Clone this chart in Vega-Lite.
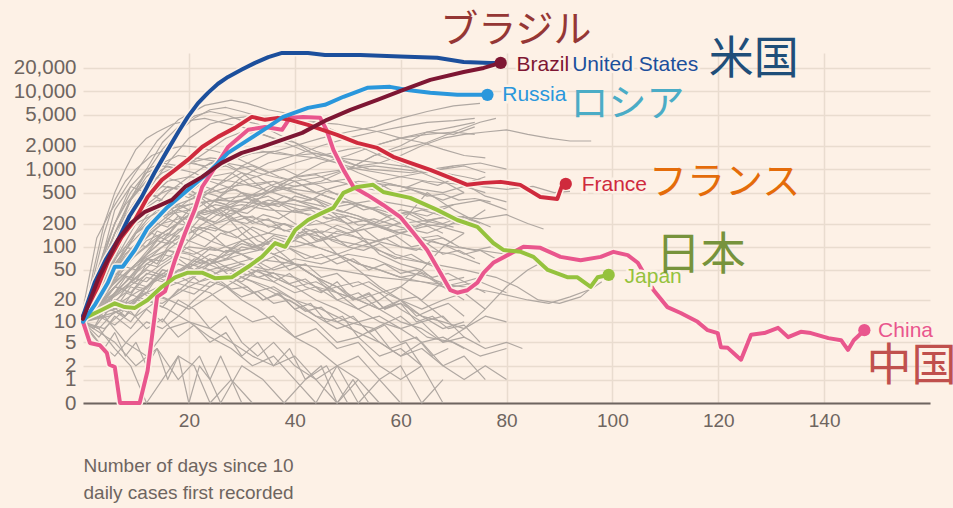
{
"$schema": "https://vega.github.io/schema/vega-lite/v6.json",
"autosize": {"type": "none"},
"padding": {"left": 83, "top": 53, "right": 23, "bottom": 105},
"width": 847,
"height": 350,
"background": "#fdf1e6",
"config": {"view": {"stroke": null}, "font": "Liberation Sans", "axis": {"labelOverlap": false}},
"datasets": {
"grey": [
{"s":"g1","d":0,"v":12},{"s":"g1","d":3,"v":40},{"s":"g1","d":6,"v":150},{"s":"g1","d":9,"v":420},{"s":"g1","d":12,"v":900},{"s":"g1","d":15,"v":1800},{"s":"g1","d":18,"v":3000},{"s":"g1","d":21,"v":4500},{"s":"g1","d":24,"v":5800},{"s":"g1","d":27,"v":6200},{"s":"g1","d":30,"v":5500},{"s":"g1","d":33,"v":4800},{"s":"g1","d":36,"v":4300},{"s":"g1","d":40,"v":3800},{"s":"g1","d":44,"v":3300},{"s":"g1","d":48,"v":2600},{"s":"g1","d":52,"v":2200},{"s":"g1","d":56,"v":1800},{"s":"g1","d":60,"v":1400},{"s":"g1","d":64,"v":1100},{"s":"g1","d":68,"v":800},{"s":"g1","d":72,"v":650},{"s":"g1","d":76,"v":450},{"s":"g1","d":80,"v":380},
{"s":"g2","d":0,"v":15},{"s":"g2","d":2.6,"v":130},{"s":"g2","d":5,"v":270},{"s":"g2","d":9.4,"v":800},{"s":"g2","d":14,"v":2300},{"s":"g2","d":18,"v":4300},{"s":"g2","d":23,"v":6600},{"s":"g2","d":28,"v":7700},{"s":"g2","d":31,"v":7000},{"s":"g2","d":35,"v":5800},{"s":"g2","d":40,"v":5000},{"s":"g2","d":44,"v":4000},{"s":"g2","d":48,"v":3000},{"s":"g2","d":52,"v":2000},{"s":"g2","d":56,"v":1500},{"s":"g2","d":60,"v":1200},{"s":"g2","d":64,"v":900},{"s":"g2","d":68,"v":700},{"s":"g2","d":72,"v":500},
{"s":"g3","d":0,"v":10},{"s":"g3","d":3,"v":30},{"s":"g3","d":6,"v":120},{"s":"g3","d":9,"v":400},{"s":"g3","d":12,"v":1000},{"s":"g3","d":15,"v":2200},{"s":"g3","d":18,"v":3500},{"s":"g3","d":21,"v":4800},{"s":"g3","d":24,"v":5500},{"s":"g3","d":27,"v":5000},{"s":"g3","d":30,"v":4200},{"s":"g3","d":33,"v":3800},{"s":"g3","d":36,"v":3000},{"s":"g3","d":40,"v":2200},{"s":"g3","d":44,"v":1500},{"s":"g3","d":48,"v":1200},{"s":"g3","d":52,"v":900},{"s":"g3","d":56,"v":700},{"s":"g3","d":60,"v":600},{"s":"g3","d":64,"v":500},{"s":"g3","d":68,"v":400},{"s":"g3","d":72,"v":500},
{"s":"g4","d":0,"v":10},{"s":"g4","d":4,"v":40},{"s":"g4","d":8,"v":150},{"s":"g4","d":12,"v":500},{"s":"g4","d":16,"v":1200},{"s":"g4","d":20,"v":2500},{"s":"g4","d":24,"v":3800},{"s":"g4","d":28,"v":4500},{"s":"g4","d":32,"v":4800},{"s":"g4","d":36,"v":4600},{"s":"g4","d":40,"v":4200},{"s":"g4","d":44,"v":4000},{"s":"g4","d":48,"v":3800},{"s":"g4","d":52,"v":3400},{"s":"g4","d":56,"v":3000},{"s":"g4","d":60,"v":2500},{"s":"g4","d":64,"v":2200},{"s":"g4","d":68,"v":1800},{"s":"g4","d":72,"v":1500},{"s":"g4","d":76,"v":1400},
{"s":"g5","d":0,"v":10},{"s":"g5","d":2,"v":50},{"s":"g5","d":4,"v":200},{"s":"g5","d":6,"v":500},{"s":"g5","d":8,"v":1000},{"s":"g5","d":10,"v":1800},{"s":"g5","d":12,"v":2500},{"s":"g5","d":14,"v":3000},{"s":"g5","d":17,"v":3800},{"s":"g5","d":20,"v":4200},{"s":"g5","d":23,"v":4500},{"s":"g5","d":26,"v":4000},{"s":"g5","d":30,"v":3500},{"s":"g5","d":34,"v":2800},{"s":"g5","d":38,"v":2200},{"s":"g5","d":42,"v":1700},{"s":"g5","d":46,"v":1500},{"s":"g5","d":50,"v":1200},{"s":"g5","d":54,"v":1000},{"s":"g5","d":58,"v":950},{"s":"g5","d":62,"v":900},{"s":"g5","d":66,"v":1000},{"s":"g5","d":70,"v":1100},
{"s":"g6","d":0,"v":15},{"s":"g6","d":3,"v":50},{"s":"g6","d":6,"v":200},{"s":"g6","d":9,"v":600},{"s":"g6","d":12,"v":1000},{"s":"g6","d":15,"v":1200},{"s":"g6","d":18,"v":1100},{"s":"g6","d":21,"v":1300},{"s":"g6","d":24,"v":1800},{"s":"g6","d":27,"v":2500},{"s":"g6","d":30,"v":3000},{"s":"g6","d":33,"v":2900},{"s":"g6","d":36,"v":2500},{"s":"g6","d":40,"v":2200},{"s":"g6","d":44,"v":1700},{"s":"g6","d":48,"v":1400},{"s":"g6","d":52,"v":1100},{"s":"g6","d":56,"v":1200},{"s":"g6","d":60,"v":1500},{"s":"g6","d":64,"v":2000},{"s":"g6","d":68,"v":2500},{"s":"g6","d":72,"v":2800},{"s":"g6","d":76,"v":3000},{"s":"g6","d":80,"v":3200},{"s":"g6","d":84,"v":2800},{"s":"g6","d":88,"v":2500},{"s":"g6","d":92,"v":2300},{"s":"g6","d":96,"v":2300},
{"s":"g7","d":0,"v":10},{"s":"g7","d":5,"v":25},{"s":"g7","d":10,"v":60},{"s":"g7","d":15,"v":120},{"s":"g7","d":20,"v":300},{"s":"g7","d":25,"v":600},{"s":"g7","d":30,"v":1100},{"s":"g7","d":35,"v":1600},{"s":"g7","d":40,"v":2000},{"s":"g7","d":45,"v":2500},{"s":"g7","d":50,"v":3000},{"s":"g7","d":55,"v":3500},{"s":"g7","d":60,"v":4500},{"s":"g7","d":65,"v":5500},{"s":"g7","d":70,"v":6500},{"s":"g7","d":75,"v":7000},
{"s":"g8","d":0,"v":10},{"s":"g8","d":5,"v":20},{"s":"g8","d":10,"v":50},{"s":"g8","d":15,"v":100},{"s":"g8","d":20,"v":200},{"s":"g8","d":25,"v":400},{"s":"g8","d":30,"v":800},{"s":"g8","d":35,"v":1200},{"s":"g8","d":40,"v":1500},{"s":"g8","d":45,"v":2000},{"s":"g8","d":50,"v":2500},{"s":"g8","d":55,"v":3000},{"s":"g8","d":60,"v":3500},{"s":"g8","d":65,"v":4000},{"s":"g8","d":70,"v":4200},{"s":"g8","d":74,"v":4500},
{"s":"g9","d":0,"v":12},{"s":"g9","d":5,"v":40},{"s":"g9","d":10,"v":150},{"s":"g9","d":15,"v":300},{"s":"g9","d":20,"v":350},{"s":"g9","d":25,"v":400},{"s":"g9","d":30,"v":450},{"s":"g9","d":35,"v":500},{"s":"g9","d":40,"v":600},{"s":"g9","d":45,"v":700},{"s":"g9","d":50,"v":1000},{"s":"g9","d":55,"v":1500},{"s":"g9","d":60,"v":2000},{"s":"g9","d":65,"v":3000},{"s":"g9","d":70,"v":3500},{"s":"g9","d":74,"v":4000},
{"s":"g10","d":0,"v":10},{"s":"g10","d":4,"v":40},{"s":"g10","d":8,"v":150},{"s":"g10","d":12,"v":400},{"s":"g10","d":16,"v":800},{"s":"g10","d":20,"v":1200},{"s":"g10","d":24,"v":1400},{"s":"g10","d":28,"v":1300},{"s":"g10","d":32,"v":1600},{"s":"g10","d":36,"v":1700},{"s":"g10","d":40,"v":1500},{"s":"g10","d":44,"v":1600},{"s":"g10","d":48,"v":1400},{"s":"g10","d":52,"v":1300},{"s":"g10","d":56,"v":1200},{"s":"g10","d":60,"v":1100},{"s":"g10","d":64,"v":1000},{"s":"g10","d":68,"v":900},{"s":"g10","d":72,"v":800},{"s":"g10","d":76,"v":700},
{"s":"g11","d":0,"v":10},{"s":"g11","d":5,"v":30},{"s":"g11","d":10,"v":60},{"s":"g11","d":15,"v":120},{"s":"g11","d":20,"v":200},{"s":"g11","d":25,"v":400},{"s":"g11","d":30,"v":700},{"s":"g11","d":35,"v":900},{"s":"g11","d":40,"v":1200},{"s":"g11","d":45,"v":1500},{"s":"g11","d":50,"v":1800},{"s":"g11","d":55,"v":2000},{"s":"g11","d":60,"v":2500},{"s":"g11","d":65,"v":2800},{"s":"g11","d":70,"v":3000},{"s":"g11","d":74,"v":2800},
{"s":"g12","d":0,"v":10},{"s":"g12","d":3,"v":50},{"s":"g12","d":6,"v":150},{"s":"g12","d":9,"v":400},{"s":"g12","d":12,"v":800},{"s":"g12","d":15,"v":1200},{"s":"g12","d":18,"v":1500},{"s":"g12","d":21,"v":1400},{"s":"g12","d":24,"v":1300},{"s":"g12","d":27,"v":1200},{"s":"g12","d":30,"v":1100},{"s":"g12","d":33,"v":900},{"s":"g12","d":36,"v":800},{"s":"g12","d":40,"v":700},{"s":"g12","d":44,"v":500},{"s":"g12","d":48,"v":400},{"s":"g12","d":52,"v":350},{"s":"g12","d":56,"v":300},{"s":"g12","d":60,"v":250},{"s":"g12","d":64,"v":200},{"s":"g12","d":68,"v":180},{"s":"g12","d":72,"v":150},
{"s":"g13","d":0,"v":12},{"s":"g13","d":3,"v":40},{"s":"g13","d":6,"v":100},{"s":"g13","d":9,"v":300},{"s":"g13","d":12,"v":600},{"s":"g13","d":15,"v":900},{"s":"g13","d":18,"v":1100},{"s":"g13","d":21,"v":1200},{"s":"g13","d":24,"v":1000},{"s":"g13","d":27,"v":1100},{"s":"g13","d":30,"v":900},{"s":"g13","d":33,"v":800},{"s":"g13","d":36,"v":600},{"s":"g13","d":40,"v":500},{"s":"g13","d":44,"v":400},{"s":"g13","d":48,"v":300},{"s":"g13","d":52,"v":250},{"s":"g13","d":56,"v":180},{"s":"g13","d":60,"v":150},{"s":"g13","d":64,"v":200},{"s":"g13","d":68,"v":150},
{"s":"g14","d":0,"v":10},{"s":"g14","d":4,"v":30},{"s":"g14","d":8,"v":80},{"s":"g14","d":12,"v":150},{"s":"g14","d":16,"v":250},{"s":"g14","d":20,"v":400},{"s":"g14","d":24,"v":500},{"s":"g14","d":28,"v":600},{"s":"g14","d":32,"v":650},{"s":"g14","d":36,"v":700},{"s":"g14","d":40,"v":600},{"s":"g14","d":44,"v":650},{"s":"g14","d":48,"v":700},{"s":"g14","d":52,"v":600},{"s":"g14","d":56,"v":700},{"s":"g14","d":60,"v":800},{"s":"g14","d":64,"v":900},{"s":"g14","d":68,"v":1000},{"s":"g14","d":72,"v":1100},{"s":"g14","d":76,"v":900},
{"s":"g15","d":0,"v":10},{"s":"g15","d":5,"v":25},{"s":"g15","d":10,"v":60},{"s":"g15","d":15,"v":100},{"s":"g15","d":20,"v":150},{"s":"g15","d":25,"v":200},{"s":"g15","d":30,"v":300},{"s":"g15","d":35,"v":500},{"s":"g15","d":40,"v":800},{"s":"g15","d":45,"v":1200},{"s":"g15","d":50,"v":1500},{"s":"g15","d":55,"v":2000},{"s":"g15","d":60,"v":2500},{"s":"g15","d":65,"v":3000},{"s":"g15","d":70,"v":2800},{"s":"g15","d":74,"v":3500},
{"s":"g16","d":0,"v":10},{"s":"g16","d":5,"v":40},{"s":"g16","d":10,"v":100},{"s":"g16","d":15,"v":200},{"s":"g16","d":20,"v":250},{"s":"g16","d":25,"v":300},{"s":"g16","d":30,"v":400},{"s":"g16","d":35,"v":500},{"s":"g16","d":40,"v":700},{"s":"g16","d":45,"v":800},{"s":"g16","d":50,"v":1000},{"s":"g16","d":55,"v":1500},{"s":"g16","d":60,"v":1800},{"s":"g16","d":65,"v":2200},{"s":"g16","d":70,"v":3000},{"s":"g16","d":75,"v":4000},{"s":"g16","d":78,"v":4500},
{"s":"g17","d":0,"v":10},{"s":"g17","d":5,"v":50},{"s":"g17","d":10,"v":200},{"s":"g17","d":15,"v":300},{"s":"g17","d":20,"v":400},{"s":"g17","d":25,"v":600},{"s":"g17","d":30,"v":900},{"s":"g17","d":35,"v":500},{"s":"g17","d":40,"v":800},{"s":"g17","d":45,"v":600},{"s":"g17","d":50,"v":400},{"s":"g17","d":55,"v":300},{"s":"g17","d":60,"v":200},{"s":"g17","d":65,"v":500},{"s":"g17","d":70,"v":300},{"s":"g17","d":75,"v":200},
{"s":"g18","d":0,"v":10},{"s":"g18","d":4,"v":30},{"s":"g18","d":8,"v":150},{"s":"g18","d":12,"v":400},{"s":"g18","d":16,"v":700},{"s":"g18","d":20,"v":800},{"s":"g18","d":24,"v":750},{"s":"g18","d":28,"v":700},{"s":"g18","d":32,"v":600},{"s":"g18","d":36,"v":500},{"s":"g18","d":40,"v":400},{"s":"g18","d":44,"v":350},{"s":"g18","d":48,"v":300},{"s":"g18","d":52,"v":250},{"s":"g18","d":56,"v":200},{"s":"g18","d":60,"v":250},{"s":"g18","d":64,"v":300},{"s":"g18","d":68,"v":250},{"s":"g18","d":72,"v":200},{"s":"g18","d":76,"v":300},
{"s":"g19","d":0,"v":12},{"s":"g19","d":3,"v":50},{"s":"g19","d":6,"v":200},{"s":"g19","d":9,"v":500},{"s":"g19","d":12,"v":900},{"s":"g19","d":15,"v":1100},{"s":"g19","d":18,"v":1000},{"s":"g19","d":21,"v":900},{"s":"g19","d":24,"v":700},{"s":"g19","d":27,"v":600},{"s":"g19","d":30,"v":500},{"s":"g19","d":33,"v":400},{"s":"g19","d":36,"v":300},{"s":"g19","d":40,"v":200},{"s":"g19","d":44,"v":150},{"s":"g19","d":48,"v":80},{"s":"g19","d":52,"v":50},{"s":"g19","d":56,"v":30},{"s":"g19","d":60,"v":20},{"s":"g19","d":64,"v":15},{"s":"g19","d":68,"v":20},{"s":"g19","d":72,"v":25},{"s":"g19","d":76,"v":15},
{"s":"g20","d":0,"v":10},{"s":"g20","d":3,"v":40},{"s":"g20","d":6,"v":150},{"s":"g20","d":9,"v":400},{"s":"g20","d":12,"v":700},{"s":"g20","d":15,"v":800},{"s":"g20","d":18,"v":700},{"s":"g20","d":21,"v":500},{"s":"g20","d":24,"v":350},{"s":"g20","d":27,"v":250},{"s":"g20","d":30,"v":150},{"s":"g20","d":33,"v":100},{"s":"g20","d":36,"v":80},{"s":"g20","d":40,"v":60},{"s":"g20","d":44,"v":40},{"s":"g20","d":48,"v":30},{"s":"g20","d":52,"v":35},{"s":"g20","d":56,"v":25},{"s":"g20","d":60,"v":30},{"s":"g20","d":64,"v":20},{"s":"g20","d":68,"v":35},{"s":"g20","d":72,"v":40},
{"s":"g21","d":0,"v":10},{"s":"g21","d":4,"v":40},{"s":"g21","d":8,"v":150},{"s":"g21","d":12,"v":300},{"s":"g21","d":16,"v":400},{"s":"g21","d":20,"v":500},{"s":"g21","d":24,"v":800},{"s":"g21","d":28,"v":900},{"s":"g21","d":32,"v":600},{"s":"g21","d":36,"v":700},{"s":"g21","d":40,"v":500},{"s":"g21","d":44,"v":400},{"s":"g21","d":48,"v":250},{"s":"g21","d":52,"v":150},{"s":"g21","d":56,"v":80},{"s":"g21","d":60,"v":60},{"s":"g21","d":64,"v":50},{"s":"g21","d":68,"v":30},{"s":"g21","d":72,"v":20},
{"s":"g22","d":0,"v":10},{"s":"g22","d":3,"v":30},{"s":"g22","d":6,"v":100},{"s":"g22","d":9,"v":300},{"s":"g22","d":12,"v":500},{"s":"g22","d":15,"v":600},{"s":"g22","d":18,"v":550},{"s":"g22","d":21,"v":450},{"s":"g22","d":24,"v":300},{"s":"g22","d":27,"v":250},{"s":"g22","d":30,"v":200},{"s":"g22","d":33,"v":150},{"s":"g22","d":36,"v":100},{"s":"g22","d":40,"v":60},{"s":"g22","d":44,"v":40},{"s":"g22","d":48,"v":20},{"s":"g22","d":52,"v":15},{"s":"g22","d":56,"v":20},{"s":"g22","d":60,"v":30},{"s":"g22","d":64,"v":50},{"s":"g22","d":68,"v":100},{"s":"g22","d":72,"v":150},
{"s":"g23","d":0,"v":10},{"s":"g23","d":5,"v":30},{"s":"g23","d":10,"v":100},{"s":"g23","d":15,"v":250},{"s":"g23","d":20,"v":350},{"s":"g23","d":25,"v":400},{"s":"g23","d":30,"v":380},{"s":"g23","d":35,"v":350},{"s":"g23","d":40,"v":400},{"s":"g23","d":45,"v":300},{"s":"g23","d":50,"v":350},{"s":"g23","d":55,"v":400},{"s":"g23","d":60,"v":350},{"s":"g23","d":65,"v":300},{"s":"g23","d":70,"v":350},{"s":"g23","d":75,"v":400},{"s":"g23","d":80,"v":300},
{"s":"g24","d":0,"v":10},{"s":"g24","d":5,"v":25},{"s":"g24","d":10,"v":60},{"s":"g24","d":15,"v":150},{"s":"g24","d":20,"v":250},{"s":"g24","d":25,"v":300},{"s":"g24","d":30,"v":350},{"s":"g24","d":35,"v":300},{"s":"g24","d":40,"v":280},{"s":"g24","d":45,"v":250},{"s":"g24","d":50,"v":200},{"s":"g24","d":55,"v":230},{"s":"g24","d":60,"v":180},{"s":"g24","d":65,"v":150},{"s":"g24","d":70,"v":200},{"s":"g24","d":75,"v":180},
{"s":"g25","d":0,"v":10},{"s":"g25","d":5,"v":40},{"s":"g25","d":10,"v":150},{"s":"g25","d":15,"v":250},{"s":"g25","d":20,"v":300},{"s":"g25","d":25,"v":200},{"s":"g25","d":30,"v":250},{"s":"g25","d":35,"v":220},{"s":"g25","d":40,"v":180},{"s":"g25","d":45,"v":200},{"s":"g25","d":50,"v":250},{"s":"g25","d":55,"v":200},{"s":"g25","d":60,"v":300},{"s":"g25","d":65,"v":250},{"s":"g25","d":70,"v":350},
{"s":"g26","d":0,"v":11},{"s":"g26","d":6,"v":15},{"s":"g26","d":12,"v":25},{"s":"g26","d":18,"v":40},{"s":"g26","d":24,"v":60},{"s":"g26","d":30,"v":80},{"s":"g26","d":36,"v":100},{"s":"g26","d":42,"v":150},{"s":"g26","d":48,"v":120},{"s":"g26","d":54,"v":100},{"s":"g26","d":60,"v":70},{"s":"g26","d":66,"v":60},{"s":"g26","d":72,"v":50},{"s":"g26","d":78,"v":40},{"s":"g26","d":82,"v":30},{"s":"g26","d":86,"v":20},{"s":"g26","d":90,"v":18},{"s":"g26","d":94,"v":22},{"s":"g26","d":97,"v":33},
{"s":"g27","d":0,"v":10},{"s":"g27","d":3,"v":50},{"s":"g27","d":6,"v":300},{"s":"g27","d":9,"v":600},{"s":"g27","d":12,"v":500},{"s":"g27","d":15,"v":400},{"s":"g27","d":18,"v":250},{"s":"g27","d":21,"v":150},{"s":"g27","d":24,"v":120},{"s":"g27","d":27,"v":100},{"s":"g27","d":30,"v":90},{"s":"g27","d":33,"v":100},{"s":"g27","d":36,"v":80},{"s":"g27","d":40,"v":60},{"s":"g27","d":44,"v":40},{"s":"g27","d":48,"v":25},{"s":"g27","d":52,"v":15},{"s":"g27","d":56,"v":10},{"s":"g27","d":60,"v":8},{"s":"g27","d":64,"v":10},{"s":"g27","d":68,"v":5},{"s":"g27","d":72,"v":8},{"s":"g27","d":76,"v":15},{"s":"g27","d":80,"v":30},{"s":"g27","d":84,"v":50},{"s":"g27","d":87,"v":65},
{"s":"g28","d":0,"v":10},{"s":"g28","d":4,"v":30},{"s":"g28","d":8,"v":100},{"s":"g28","d":12,"v":250},{"s":"g28","d":16,"v":500},{"s":"g28","d":20,"v":800},{"s":"g28","d":24,"v":1200},{"s":"g28","d":28,"v":1500},{"s":"g28","d":32,"v":1800},{"s":"g28","d":36,"v":1600},{"s":"g28","d":40,"v":1500},{"s":"g28","d":44,"v":1400},{"s":"g28","d":48,"v":1200},{"s":"g28","d":52,"v":1000},{"s":"g28","d":56,"v":900},{"s":"g28","d":60,"v":800},{"s":"g28","d":65,"v":700},{"s":"g28","d":70,"v":650},{"s":"g28","d":75,"v":600},{"s":"g28","d":80,"v":550},{"s":"g28","d":85,"v":600},{"s":"g28","d":89,"v":500},{"s":"g28","d":92,"v":520},
{"s":"g29","d":0,"v":10},{"s":"g29","d":3,"v":15},{"s":"g29","d":6,"v":25},{"s":"g29","d":9,"v":40},{"s":"g29","d":12,"v":60},{"s":"g29","d":15,"v":80},{"s":"g29","d":18,"v":70},{"s":"g29","d":21,"v":50},{"s":"g29","d":24,"v":40},{"s":"g29","d":27,"v":30},{"s":"g29","d":30,"v":20},{"s":"g29","d":33,"v":15},{"s":"g29","d":36,"v":10},{"s":"g29","d":40,"v":6},{"s":"g29","d":44,"v":4},{"s":"g29","d":48,"v":2},{"s":"g29","d":52,"v":3},{"s":"g29","d":56,"v":1},{"s":"g29","d":60,"v":2},{"s":"g29","d":64,"v":0},{"s":"g29","d":68,"v":1},
{"s":"g30","d":0,"v":10},{"s":"g30","d":4,"v":20},{"s":"g30","d":8,"v":30},{"s":"g30","d":12,"v":50},{"s":"g30","d":16,"v":40},{"s":"g30","d":20,"v":60},{"s":"g30","d":24,"v":50},{"s":"g30","d":28,"v":35},{"s":"g30","d":32,"v":25},{"s":"g30","d":36,"v":30},{"s":"g30","d":40,"v":20},{"s":"g30","d":44,"v":12},{"s":"g30","d":48,"v":8},{"s":"g30","d":52,"v":10},{"s":"g30","d":56,"v":5},{"s":"g30","d":60,"v":3},{"s":"g30","d":64,"v":5},{"s":"g30","d":68,"v":2},{"s":"g30","d":72,"v":3},{"s":"g30","d":76,"v":1},
{"s":"g31","d":0,"v":10},{"s":"g31","d":2,"v":8},{"s":"g31","d":5,"v":15},{"s":"g31","d":8,"v":12},{"s":"g31","d":11,"v":25},{"s":"g31","d":14,"v":20},{"s":"g31","d":17,"v":35},{"s":"g31","d":20,"v":30},{"s":"g31","d":24,"v":25},{"s":"g31","d":28,"v":15},{"s":"g31","d":32,"v":10},{"s":"g31","d":36,"v":12},{"s":"g31","d":40,"v":6},{"s":"g31","d":44,"v":8},{"s":"g31","d":48,"v":4},{"s":"g31","d":52,"v":5},{"s":"g31","d":56,"v":2},{"s":"g31","d":60,"v":1},{"s":"g31","d":64,"v":2},{"s":"g31","d":68,"v":0},
{"s":"g32","d":0,"v":10},{"s":"g32","d":3,"v":20},{"s":"g32","d":6,"v":40},{"s":"g32","d":9,"v":70},{"s":"g32","d":12,"v":120},{"s":"g32","d":15,"v":150},{"s":"g32","d":18,"v":200},{"s":"g32","d":21,"v":180},{"s":"g32","d":24,"v":150},{"s":"g32","d":27,"v":100},{"s":"g32","d":30,"v":80},{"s":"g32","d":33,"v":60},{"s":"g32","d":36,"v":40},{"s":"g32","d":40,"v":30},{"s":"g32","d":44,"v":20},{"s":"g32","d":48,"v":15},{"s":"g32","d":52,"v":10},{"s":"g32","d":56,"v":12},{"s":"g32","d":60,"v":8},{"s":"g32","d":64,"v":5},{"s":"g32","d":68,"v":6},{"s":"g32","d":72,"v":4},
{"s":"g33","d":0,"v":10},{"s":"g33","d":3,"v":6},{"s":"g33","d":6,"v":12},{"s":"g33","d":9,"v":8},{"s":"g33","d":12,"v":15},{"s":"g33","d":15,"v":10},{"s":"g33","d":18,"v":20},{"s":"g33","d":21,"v":15},{"s":"g33","d":24,"v":8},{"s":"g33","d":27,"v":12},{"s":"g33","d":30,"v":5},{"s":"g33","d":33,"v":3},{"s":"g33","d":36,"v":5},{"s":"g33","d":40,"v":2},{"s":"g33","d":44,"v":1},{"s":"g33","d":48,"v":2},{"s":"g33","d":52,"v":0},{"s":"g33","d":56,"v":1},{"s":"g33","d":60,"v":0},
{"s":"g34","d":0,"v":10},{"s":"g34","d":4,"v":30},{"s":"g34","d":8,"v":60},{"s":"g34","d":12,"v":100},{"s":"g34","d":16,"v":150},{"s":"g34","d":20,"v":120},{"s":"g34","d":24,"v":180},{"s":"g34","d":28,"v":150},{"s":"g34","d":32,"v":100},{"s":"g34","d":36,"v":120},{"s":"g34","d":40,"v":90},{"s":"g34","d":44,"v":70},{"s":"g34","d":48,"v":80},{"s":"g34","d":52,"v":60},{"s":"g34","d":56,"v":50},{"s":"g34","d":60,"v":40},{"s":"g34","d":64,"v":45},{"s":"g34","d":68,"v":30},{"s":"g34","d":72,"v":35},{"s":"g34","d":76,"v":25},
{"s":"g35","d":0,"v":10},{"s":"g35","d":5,"v":12},{"s":"g35","d":10,"v":20},{"s":"g35","d":15,"v":18},{"s":"g35","d":20,"v":30},{"s":"g35","d":25,"v":45},{"s":"g35","d":30,"v":60},{"s":"g35","d":35,"v":50},{"s":"g35","d":40,"v":70},{"s":"g35","d":45,"v":60},{"s":"g35","d":50,"v":80},{"s":"g35","d":55,"v":70},{"s":"g35","d":60,"v":50},{"s":"g35","d":65,"v":40},{"s":"g35","d":70,"v":30},{"s":"g35","d":75,"v":35},{"s":"g35","d":80,"v":25},
{"s":"g36","d":0,"v":10},{"s":"g36","d":3,"v":25},{"s":"g36","d":6,"v":50},{"s":"g36","d":9,"v":90},{"s":"g36","d":12,"v":140},{"s":"g36","d":15,"v":200},{"s":"g36","d":18,"v":300},{"s":"g36","d":21,"v":250},{"s":"g36","d":24,"v":200},{"s":"g36","d":27,"v":150},{"s":"g36","d":30,"v":180},{"s":"g36","d":33,"v":120},{"s":"g36","d":36,"v":100},{"s":"g36","d":40,"v":120},{"s":"g36","d":44,"v":100},{"s":"g36","d":48,"v":80},{"s":"g36","d":52,"v":100},{"s":"g36","d":56,"v":120},{"s":"g36","d":60,"v":150},{"s":"g36","d":64,"v":180},{"s":"g36","d":68,"v":200},{"s":"g36","d":72,"v":250},
{"s":"g37","d":0,"v":10},{"s":"g37","d":4,"v":12},{"s":"g37","d":8,"v":5},{"s":"g37","d":12,"v":3},{"s":"g37","d":16,"v":8},{"s":"g37","d":20,"v":10},{"s":"g37","d":24,"v":6},{"s":"g37","d":28,"v":4},{"s":"g37","d":32,"v":2},{"s":"g37","d":36,"v":3},{"s":"g37","d":40,"v":1},{"s":"g37","d":44,"v":0},{"s":"g37","d":48,"v":2},{"s":"g37","d":52,"v":1},{"s":"g37","d":56,"v":0},
{"s":"g38","d":0,"v":10},{"s":"g38","d":3,"v":18},{"s":"g38","d":6,"v":30},{"s":"g38","d":9,"v":25},{"s":"g38","d":12,"v":40},{"s":"g38","d":15,"v":35},{"s":"g38","d":18,"v":50},{"s":"g38","d":21,"v":45},{"s":"g38","d":24,"v":40},{"s":"g38","d":27,"v":55},{"s":"g38","d":30,"v":45},{"s":"g38","d":33,"v":40},{"s":"g38","d":36,"v":35},{"s":"g38","d":40,"v":25},{"s":"g38","d":44,"v":30},{"s":"g38","d":48,"v":20},{"s":"g38","d":52,"v":25},{"s":"g38","d":56,"v":15},{"s":"g38","d":60,"v":18},{"s":"g38","d":64,"v":12},{"s":"g38","d":68,"v":10},{"s":"g38","d":72,"v":8},{"s":"g38","d":76,"v":12},{"s":"g38","d":80,"v":10},
{"s":"g39","d":0,"v":10},{"s":"g39","d":5,"v":20},{"s":"g39","d":10,"v":35},{"s":"g39","d":15,"v":60},{"s":"g39","d":20,"v":100},{"s":"g39","d":25,"v":90},{"s":"g39","d":30,"v":120},{"s":"g39","d":35,"v":150},{"s":"g39","d":40,"v":130},{"s":"g39","d":45,"v":160},{"s":"g39","d":50,"v":140},{"s":"g39","d":55,"v":120},{"s":"g39","d":60,"v":100},{"s":"g39","d":65,"v":90},{"s":"g39","d":70,"v":80},{"s":"g39","d":75,"v":60},
{"s":"g40","d":0,"v":10},{"s":"g40","d":4,"v":15},{"s":"g40","d":8,"v":25},{"s":"g40","d":12,"v":20},{"s":"g40","d":16,"v":15},{"s":"g40","d":20,"v":10},{"s":"g40","d":24,"v":8},{"s":"g40","d":28,"v":5},{"s":"g40","d":32,"v":3},{"s":"g40","d":36,"v":2},{"s":"g40","d":40,"v":3},{"s":"g40","d":44,"v":1},{"s":"g40","d":48,"v":0},{"s":"g40","d":52,"v":1},
{"s":"g41","d":0,"v":10},{"s":"g41","d":2,"v":20},{"s":"g41","d":4,"v":30},{"s":"g41","d":6,"v":50},{"s":"g41","d":8,"v":80},{"s":"g41","d":10,"v":100},{"s":"g41","d":13,"v":150},{"s":"g41","d":16,"v":120},{"s":"g41","d":19,"v":100},{"s":"g41","d":22,"v":80},{"s":"g41","d":25,"v":60},{"s":"g41","d":28,"v":40},{"s":"g41","d":31,"v":30},{"s":"g41","d":34,"v":20},{"s":"g41","d":37,"v":25},{"s":"g41","d":40,"v":15},{"s":"g41","d":44,"v":10},{"s":"g41","d":48,"v":5},{"s":"g41","d":52,"v":6},{"s":"g41","d":56,"v":3},{"s":"g41","d":60,"v":4},{"s":"g41","d":64,"v":2},
{"s":"g42","d":0,"v":10},{"s":"g42","d":5,"v":15},{"s":"g42","d":10,"v":25},{"s":"g42","d":15,"v":40},{"s":"g42","d":20,"v":55},{"s":"g42","d":25,"v":70},{"s":"g42","d":30,"v":90},{"s":"g42","d":35,"v":110},{"s":"g42","d":40,"v":100},{"s":"g42","d":45,"v":120},{"s":"g42","d":50,"v":150},{"s":"g42","d":55,"v":180},{"s":"g42","d":60,"v":200},{"s":"g42","d":65,"v":220},{"s":"g42","d":70,"v":250},{"s":"g42","d":75,"v":230},{"s":"g42","d":80,"v":260},{"s":"g42","d":84,"v":200},{"s":"g42","d":87,"v":170},
{"s":"g43","d":0,"v":10},{"s":"g43","d":3,"v":5},{"s":"g43","d":6,"v":3},{"s":"g43","d":9,"v":6},{"s":"g43","d":12,"v":10},{"s":"g43","d":15,"v":8},{"s":"g43","d":18,"v":12},{"s":"g43","d":21,"v":20},{"s":"g43","d":24,"v":30},{"s":"g43","d":27,"v":40},{"s":"g43","d":30,"v":35},{"s":"g43","d":33,"v":50},{"s":"g43","d":36,"v":45},{"s":"g43","d":40,"v":40},{"s":"g43","d":44,"v":30},{"s":"g43","d":48,"v":25},{"s":"g43","d":52,"v":20},{"s":"g43","d":56,"v":15},{"s":"g43","d":60,"v":20},{"s":"g43","d":64,"v":12},{"s":"g43","d":68,"v":8},{"s":"g43","d":72,"v":10},
{"s":"g44","d":0,"v":10},{"s":"g44","d":4,"v":25},{"s":"g44","d":8,"v":45},{"s":"g44","d":12,"v":70},{"s":"g44","d":16,"v":90},{"s":"g44","d":20,"v":80},{"s":"g44","d":24,"v":60},{"s":"g44","d":28,"v":70},{"s":"g44","d":32,"v":50},{"s":"g44","d":36,"v":40},{"s":"g44","d":40,"v":30},{"s":"g44","d":44,"v":35},{"s":"g44","d":48,"v":25},{"s":"g44","d":52,"v":20},{"s":"g44","d":56,"v":15},{"s":"g44","d":60,"v":10},{"s":"g44","d":64,"v":8},{"s":"g44","d":68,"v":5},{"s":"g44","d":72,"v":6},{"s":"g44","d":76,"v":4},{"s":"g44","d":80,"v":5},{"s":"g44","d":83,"v":4},
{"s":"g45","d":0,"v":12},{"s":"g45","d":3,"v":30},{"s":"g45","d":6,"v":80},{"s":"g45","d":9,"v":200},{"s":"g45","d":12,"v":350},{"s":"g45","d":15,"v":500},{"s":"g45","d":18,"v":600},{"s":"g45","d":21,"v":500},{"s":"g45","d":24,"v":400},{"s":"g45","d":27,"v":350},{"s":"g45","d":30,"v":250},{"s":"g45","d":33,"v":200},{"s":"g45","d":36,"v":180},{"s":"g45","d":40,"v":150},{"s":"g45","d":44,"v":100},{"s":"g45","d":48,"v":80},{"s":"g45","d":52,"v":60},{"s":"g45","d":56,"v":50},{"s":"g45","d":60,"v":40},{"s":"g45","d":64,"v":35},{"s":"g45","d":68,"v":30},{"s":"g45","d":72,"v":25},
{"s":"g46","d":0,"v":10},{"s":"g46","d":8,"v":15},{"s":"g46","d":16,"v":30},{"s":"g46","d":24,"v":50},{"s":"g46","d":32,"v":70},{"s":"g46","d":40,"v":60},{"s":"g46","d":48,"v":50},{"s":"g46","d":56,"v":40},{"s":"g46","d":64,"v":35},{"s":"g46","d":72,"v":30},{"s":"g46","d":78,"v":25},{"s":"g46","d":84,"v":20},{"s":"g46","d":88,"v":18},{"s":"g46","d":92,"v":22},{"s":"g46","d":96,"v":28},{"s":"g46","d":98,"v":35},
{"s":"g47","d":0,"v":10},{"s":"g47","d":4,"v":8},{"s":"g47","d":8,"v":15},{"s":"g47","d":12,"v":25},{"s":"g47","d":16,"v":20},{"s":"g47","d":20,"v":35},{"s":"g47","d":24,"v":30},{"s":"g47","d":28,"v":45},{"s":"g47","d":32,"v":35},{"s":"g47","d":36,"v":25},{"s":"g47","d":40,"v":18},{"s":"g47","d":44,"v":12},{"s":"g47","d":48,"v":10},{"s":"g47","d":52,"v":7},{"s":"g47","d":56,"v":5},{"s":"g47","d":60,"v":3},{"s":"g47","d":64,"v":4},{"s":"g47","d":68,"v":2},{"s":"g47","d":72,"v":1},{"s":"g47","d":76,"v":2},{"s":"g47","d":80,"v":1},
{"s":"g48","d":0,"v":10},{"s":"g48","d":3,"v":8},{"s":"g48","d":6,"v":4},{"s":"g48","d":9,"v":2},{"s":"g48","d":12,"v":0},{"s":"g48","d":15,"v":1},{"s":"g48","d":18,"v":3},{"s":"g48","d":21,"v":2},{"s":"g48","d":24,"v":0},{"s":"g48","d":28,"v":1},{"s":"g48","d":32,"v":0},
{"s":"g49","d":0,"v":10},{"s":"g49","d":5,"v":30},{"s":"g49","d":10,"v":80},{"s":"g49","d":15,"v":150},{"s":"g49","d":20,"v":250},{"s":"g49","d":25,"v":350},{"s":"g49","d":30,"v":300},{"s":"g49","d":35,"v":400},{"s":"g49","d":40,"v":350},{"s":"g49","d":45,"v":300},{"s":"g49","d":50,"v":250},{"s":"g49","d":55,"v":200},{"s":"g49","d":60,"v":150},{"s":"g49","d":65,"v":120},{"s":"g49","d":70,"v":100},{"s":"g49","d":75,"v":90},{"s":"g49","d":80,"v":80},
{"s":"g50","d":0,"v":10},{"s":"g50","d":5,"v":20},{"s":"g50","d":10,"v":40},{"s":"g50","d":15,"v":80},{"s":"g50","d":20,"v":150},{"s":"g50","d":25,"v":250},{"s":"g50","d":30,"v":400},{"s":"g50","d":35,"v":600},{"s":"g50","d":40,"v":800},{"s":"g50","d":45,"v":900},{"s":"g50","d":50,"v":1000},{"s":"g50","d":55,"v":1100},{"s":"g50","d":60,"v":1000},{"s":"g50","d":65,"v":900},{"s":"g50","d":70,"v":1100},{"s":"g50","d":75,"v":1200},{"s":"g50","d":80,"v":1000},
{"s":"g51","d":0,"v":10},{"s":"g51","d":2,"v":40},{"s":"g51","d":4,"v":150},{"s":"g51","d":6,"v":400},{"s":"g51","d":8,"v":700},{"s":"g51","d":10,"v":1000},{"s":"g51","d":13,"v":1500},{"s":"g51","d":16,"v":1800},{"s":"g51","d":19,"v":2000},{"s":"g51","d":22,"v":1900},{"s":"g51","d":25,"v":1700},{"s":"g51","d":28,"v":1500},{"s":"g51","d":31,"v":1200},{"s":"g51","d":34,"v":1000},{"s":"g51","d":37,"v":800},{"s":"g51","d":40,"v":700},{"s":"g51","d":44,"v":500},{"s":"g51","d":48,"v":400},
{"s":"g52","d":0,"v":10},{"s":"g52","d":4,"v":20},{"s":"g52","d":8,"v":12},{"s":"g52","d":12,"v":30},{"s":"g52","d":16,"v":50},{"s":"g52","d":20,"v":35},{"s":"g52","d":24,"v":60},{"s":"g52","d":28,"v":90},{"s":"g52","d":32,"v":70},{"s":"g52","d":36,"v":50},{"s":"g52","d":40,"v":60},{"s":"g52","d":44,"v":40},{"s":"g52","d":48,"v":30},{"s":"g52","d":52,"v":20},{"s":"g52","d":56,"v":25},{"s":"g52","d":60,"v":15},{"s":"g52","d":64,"v":10},{"s":"g52","d":68,"v":12},{"s":"g52","d":72,"v":6},
{"s":"g53","d":0,"v":10},{"s":"g53","d":5,"v":18},{"s":"g53","d":10,"v":12},{"s":"g53","d":15,"v":22},{"s":"g53","d":20,"v":15},{"s":"g53","d":25,"v":25},{"s":"g53","d":30,"v":40},{"s":"g53","d":35,"v":30},{"s":"g53","d":40,"v":20},{"s":"g53","d":45,"v":15},{"s":"g53","d":50,"v":10},{"s":"g53","d":55,"v":8},{"s":"g53","d":60,"v":12},{"s":"g53","d":65,"v":6},{"s":"g53","d":70,"v":5},{"s":"g53","d":75,"v":3},{"s":"g53","d":80,"v":4},
{"s":"g54","d":0,"v":10},{"s":"g54","d":3,"v":25},{"s":"g54","d":6,"v":60},{"s":"g54","d":9,"v":110},{"s":"g54","d":12,"v":180},{"s":"g54","d":15,"v":250},{"s":"g54","d":18,"v":200},{"s":"g54","d":21,"v":300},{"s":"g54","d":24,"v":400},{"s":"g54","d":27,"v":350},{"s":"g54","d":30,"v":500},{"s":"g54","d":33,"v":450},{"s":"g54","d":36,"v":600},{"s":"g54","d":40,"v":550},{"s":"g54","d":44,"v":500},{"s":"g54","d":48,"v":600},{"s":"g54","d":52,"v":700},{"s":"g54","d":56,"v":650},{"s":"g54","d":60,"v":600},{"s":"g54","d":64,"v":550},{"s":"g54","d":68,"v":500},{"s":"g54","d":72,"v":600},{"s":"g54","d":76,"v":500},
{"s":"g55","d":0,"v":10},{"s":"g55","d":6,"v":5},{"s":"g55","d":10,"v":2},{"s":"g55","d":14,"v":4},{"s":"g55","d":18,"v":1},{"s":"g55","d":22,"v":3},{"s":"g55","d":26,"v":0},{"s":"g55","d":30,"v":2},{"s":"g55","d":34,"v":1},{"s":"g55","d":38,"v":0},{"s":"g55","d":42,"v":1},{"s":"g55","d":46,"v":2},{"s":"g55","d":50,"v":0},
{"s":"g56","d":0,"v":10},{"s":"g56","d":2,"v":15},{"s":"g56","d":4,"v":12},{"s":"g56","d":6,"v":25},{"s":"g56","d":8,"v":40},{"s":"g56","d":10,"v":35},{"s":"g56","d":12,"v":60},{"s":"g56","d":14,"v":55},{"s":"g56","d":16,"v":90},{"s":"g56","d":18,"v":80},{"s":"g56","d":20,"v":120},{"s":"g56","d":23,"v":100},{"s":"g56","d":26,"v":150},{"s":"g56","d":29,"v":130},{"s":"g56","d":32,"v":180},{"s":"g56","d":35,"v":150},{"s":"g56","d":38,"v":200},{"s":"g56","d":41,"v":170},{"s":"g56","d":44,"v":220},{"s":"g56","d":47,"v":180},{"s":"g56","d":50,"v":150},{"s":"g56","d":53,"v":170},{"s":"g56","d":56,"v":120},{"s":"g56","d":59,"v":140},{"s":"g56","d":62,"v":100},{"s":"g56","d":65,"v":110},{"s":"g56","d":68,"v":80},{"s":"g56","d":71,"v":90},{"s":"g56","d":74,"v":70},
{"s":"g57","d":0,"v":10},{"s":"g57","d":2,"v":25},{"s":"g57","d":4,"v":40},{"s":"g57","d":6,"v":70},{"s":"g57","d":8,"v":100},{"s":"g57","d":10,"v":90},{"s":"g57","d":12,"v":150},{"s":"g57","d":14,"v":200},{"s":"g57","d":16,"v":180},{"s":"g57","d":18,"v":250},{"s":"g57","d":20,"v":220},{"s":"g57","d":23,"v":300},{"s":"g57","d":26,"v":250},{"s":"g57","d":29,"v":280},{"s":"g57","d":32,"v":200},{"s":"g57","d":35,"v":230},{"s":"g57","d":38,"v":160},{"s":"g57","d":41,"v":180},{"s":"g57","d":44,"v":120},{"s":"g57","d":47,"v":140},{"s":"g57","d":50,"v":100},{"s":"g57","d":53,"v":90},{"s":"g57","d":56,"v":110},{"s":"g57","d":59,"v":80},{"s":"g57","d":62,"v":70},{"s":"g57","d":65,"v":60},
{"s":"g58","d":0,"v":10},{"s":"g58","d":3,"v":12},{"s":"g58","d":6,"v":20},{"s":"g58","d":9,"v":18},{"s":"g58","d":12,"v":30},{"s":"g58","d":15,"v":45},{"s":"g58","d":18,"v":40},{"s":"g58","d":21,"v":60},{"s":"g58","d":24,"v":80},{"s":"g58","d":27,"v":70},{"s":"g58","d":30,"v":100},{"s":"g58","d":33,"v":90},{"s":"g58","d":36,"v":130},{"s":"g58","d":39,"v":110},{"s":"g58","d":42,"v":150},{"s":"g58","d":45,"v":120},{"s":"g58","d":48,"v":160},{"s":"g58","d":51,"v":140},{"s":"g58","d":54,"v":110},{"s":"g58","d":57,"v":130},{"s":"g58","d":60,"v":100},{"s":"g58","d":63,"v":90},{"s":"g58","d":66,"v":120},{"s":"g58","d":69,"v":100},{"s":"g58","d":72,"v":80},{"s":"g58","d":75,"v":90},{"s":"g58","d":78,"v":70},
{"s":"g59","d":0,"v":10},{"s":"g59","d":2,"v":20},{"s":"g59","d":4,"v":35},{"s":"g59","d":6,"v":60},{"s":"g59","d":8,"v":90},{"s":"g59","d":10,"v":150},{"s":"g59","d":12,"v":220},{"s":"g59","d":14,"v":300},{"s":"g59","d":16,"v":280},{"s":"g59","d":18,"v":350},{"s":"g59","d":20,"v":300},{"s":"g59","d":23,"v":260},{"s":"g59","d":26,"v":300},{"s":"g59","d":29,"v":220},{"s":"g59","d":32,"v":250},{"s":"g59","d":35,"v":180},{"s":"g59","d":38,"v":200},{"s":"g59","d":41,"v":150},{"s":"g59","d":44,"v":170},{"s":"g59","d":47,"v":120},{"s":"g59","d":50,"v":100},{"s":"g59","d":53,"v":120},{"s":"g59","d":56,"v":90},{"s":"g59","d":59,"v":70},{"s":"g59","d":62,"v":80},{"s":"g59","d":65,"v":60},{"s":"g59","d":68,"v":50},
{"s":"g60","d":0,"v":10},{"s":"g60","d":3,"v":15},{"s":"g60","d":6,"v":30},{"s":"g60","d":9,"v":25},{"s":"g60","d":12,"v":45},{"s":"g60","d":15,"v":40},{"s":"g60","d":18,"v":60},{"s":"g60","d":21,"v":50},{"s":"g60","d":24,"v":70},{"s":"g60","d":27,"v":55},{"s":"g60","d":30,"v":40},{"s":"g60","d":33,"v":50},{"s":"g60","d":36,"v":35},{"s":"g60","d":39,"v":45},{"s":"g60","d":42,"v":30},{"s":"g60","d":45,"v":25},{"s":"g60","d":48,"v":35},{"s":"g60","d":51,"v":20},{"s":"g60","d":54,"v":25},{"s":"g60","d":57,"v":15},{"s":"g60","d":60,"v":20},{"s":"g60","d":63,"v":12},{"s":"g60","d":66,"v":15},{"s":"g60","d":69,"v":10},
{"s":"g61","d":0,"v":10},{"s":"g61","d":2,"v":12},{"s":"g61","d":4,"v":20},{"s":"g61","d":6,"v":30},{"s":"g61","d":8,"v":28},{"s":"g61","d":10,"v":45},{"s":"g61","d":12,"v":70},{"s":"g61","d":14,"v":60},{"s":"g61","d":16,"v":100},{"s":"g61","d":18,"v":140},{"s":"g61","d":20,"v":120},{"s":"g61","d":22,"v":180},{"s":"g61","d":25,"v":160},{"s":"g61","d":28,"v":220},{"s":"g61","d":31,"v":200},{"s":"g61","d":34,"v":260},{"s":"g61","d":37,"v":230},{"s":"g61","d":40,"v":300},{"s":"g61","d":43,"v":250},{"s":"g61","d":46,"v":320},{"s":"g61","d":49,"v":280},{"s":"g61","d":52,"v":350},{"s":"g61","d":55,"v":300},{"s":"g61","d":58,"v":250},{"s":"g61","d":61,"v":280},{"s":"g61","d":64,"v":220},{"s":"g61","d":67,"v":200},{"s":"g61","d":70,"v":180},
{"s":"g62","d":0,"v":10},{"s":"g62","d":3,"v":20},{"s":"g62","d":6,"v":15},{"s":"g62","d":9,"v":30},{"s":"g62","d":12,"v":25},{"s":"g62","d":15,"v":50},{"s":"g62","d":18,"v":45},{"s":"g62","d":21,"v":70},{"s":"g62","d":24,"v":60},{"s":"g62","d":27,"v":90},{"s":"g62","d":30,"v":80},{"s":"g62","d":33,"v":60},{"s":"g62","d":36,"v":75},{"s":"g62","d":39,"v":50},{"s":"g62","d":42,"v":60},{"s":"g62","d":45,"v":40},{"s":"g62","d":48,"v":45},{"s":"g62","d":51,"v":30},{"s":"g62","d":54,"v":35},{"s":"g62","d":57,"v":25},{"s":"g62","d":60,"v":20},{"s":"g62","d":63,"v":22},{"s":"g62","d":66,"v":15},{"s":"g62","d":69,"v":18},{"s":"g62","d":72,"v":12},
{"s":"g63","d":0,"v":10},{"s":"g63","d":2,"v":30},{"s":"g63","d":4,"v":70},{"s":"g63","d":6,"v":150},{"s":"g63","d":8,"v":250},{"s":"g63","d":10,"v":400},{"s":"g63","d":12,"v":500},{"s":"g63","d":14,"v":450},{"s":"g63","d":16,"v":600},{"s":"g63","d":18,"v":550},{"s":"g63","d":20,"v":700},{"s":"g63","d":23,"v":600},{"s":"g63","d":26,"v":500},{"s":"g63","d":29,"v":550},{"s":"g63","d":32,"v":400},{"s":"g63","d":35,"v":450},{"s":"g63","d":38,"v":350},{"s":"g63","d":41,"v":300},{"s":"g63","d":44,"v":320},{"s":"g63","d":47,"v":250},{"s":"g63","d":50,"v":200},{"s":"g63","d":53,"v":220},{"s":"g63","d":56,"v":180},{"s":"g63","d":59,"v":150},{"s":"g63","d":62,"v":160},{"s":"g63","d":65,"v":120},{"s":"g63","d":68,"v":130},{"s":"g63","d":71,"v":100},{"s":"g63","d":74,"v":90},{"s":"g63","d":77,"v":100},
{"s":"g64","d":0,"v":10},{"s":"g64","d":3,"v":8},{"s":"g64","d":6,"v":14},{"s":"g64","d":9,"v":10},{"s":"g64","d":12,"v":20},{"s":"g64","d":15,"v":16},{"s":"g64","d":18,"v":28},{"s":"g64","d":21,"v":24},{"s":"g64","d":24,"v":35},{"s":"g64","d":27,"v":30},{"s":"g64","d":30,"v":22},{"s":"g64","d":33,"v":26},{"s":"g64","d":36,"v":18},{"s":"g64","d":39,"v":20},{"s":"g64","d":42,"v":14},{"s":"g64","d":45,"v":16},{"s":"g64","d":48,"v":10},{"s":"g64","d":51,"v":12},{"s":"g64","d":54,"v":7},{"s":"g64","d":57,"v":9},{"s":"g64","d":60,"v":5},{"s":"g64","d":63,"v":6},{"s":"g64","d":66,"v":3},{"s":"g64","d":69,"v":4},
{"s":"g65","d":0,"v":10},{"s":"g65","d":2,"v":18},{"s":"g65","d":4,"v":30},{"s":"g65","d":6,"v":50},{"s":"g65","d":8,"v":70},{"s":"g65","d":10,"v":110},{"s":"g65","d":12,"v":100},{"s":"g65","d":14,"v":160},{"s":"g65","d":16,"v":140},{"s":"g65","d":18,"v":200},{"s":"g65","d":20,"v":260},{"s":"g65","d":23,"v":230},{"s":"g65","d":26,"v":320},{"s":"g65","d":29,"v":280},{"s":"g65","d":32,"v":400},{"s":"g65","d":35,"v":350},{"s":"g65","d":38,"v":450},{"s":"g65","d":41,"v":380},{"s":"g65","d":44,"v":420},{"s":"g65","d":47,"v":350},{"s":"g65","d":50,"v":380},{"s":"g65","d":53,"v":300},{"s":"g65","d":56,"v":330},{"s":"g65","d":59,"v":260},{"s":"g65","d":62,"v":280},{"s":"g65","d":65,"v":220},{"s":"g65","d":68,"v":240},{"s":"g65","d":71,"v":200},{"s":"g65","d":74,"v":220},{"s":"g65","d":77,"v":180},
{"s":"g66","d":0,"v":10},{"s":"g66","d":3,"v":25},{"s":"g66","d":6,"v":45},{"s":"g66","d":9,"v":40},{"s":"g66","d":12,"v":70},{"s":"g66","d":15,"v":65},{"s":"g66","d":18,"v":90},{"s":"g66","d":21,"v":80},{"s":"g66","d":24,"v":100},{"s":"g66","d":27,"v":85},{"s":"g66","d":30,"v":110},{"s":"g66","d":33,"v":95},{"s":"g66","d":36,"v":80},{"s":"g66","d":39,"v":95},{"s":"g66","d":42,"v":70},{"s":"g66","d":45,"v":80},{"s":"g66","d":48,"v":60},{"s":"g66","d":51,"v":70},{"s":"g66","d":54,"v":50},{"s":"g66","d":57,"v":60},{"s":"g66","d":60,"v":45},{"s":"g66","d":63,"v":50},{"s":"g66","d":66,"v":40},{"s":"g66","d":69,"v":45},{"s":"g66","d":72,"v":35},{"s":"g66","d":75,"v":40},
{"s":"g67","d":0,"v":10},{"s":"g67","d":2,"v":8},{"s":"g67","d":4,"v":15},{"s":"g67","d":6,"v":20},{"s":"g67","d":8,"v":18},{"s":"g67","d":10,"v":30},{"s":"g67","d":12,"v":28},{"s":"g67","d":14,"v":40},{"s":"g67","d":16,"v":35},{"s":"g67","d":18,"v":50},{"s":"g67","d":20,"v":45},{"s":"g67","d":22,"v":35},{"s":"g67","d":25,"v":40},{"s":"g67","d":28,"v":28},{"s":"g67","d":31,"v":30},{"s":"g67","d":34,"v":20},{"s":"g67","d":37,"v":24},{"s":"g67","d":40,"v":15},{"s":"g67","d":43,"v":18},{"s":"g67","d":46,"v":10},{"s":"g67","d":49,"v":12},{"s":"g67","d":52,"v":6},{"s":"g67","d":55,"v":8},{"s":"g67","d":58,"v":4},{"s":"g67","d":61,"v":5},{"s":"g67","d":64,"v":2},
{"s":"g68","d":0,"v":12},{"s":"g68","d":2,"v":35},{"s":"g68","d":4,"v":90},{"s":"g68","d":6,"v":200},{"s":"g68","d":8,"v":350},{"s":"g68","d":10,"v":500},{"s":"g68","d":12,"v":700},{"s":"g68","d":14,"v":900},{"s":"g68","d":16,"v":1100},{"s":"g68","d":18,"v":1000},{"s":"g68","d":20,"v":1200},{"s":"g68","d":23,"v":1100},{"s":"g68","d":26,"v":1300},{"s":"g68","d":29,"v":1000},{"s":"g68","d":32,"v":1100},{"s":"g68","d":35,"v":900},{"s":"g68","d":38,"v":1000},{"s":"g68","d":41,"v":800},{"s":"g68","d":44,"v":850},{"s":"g68","d":47,"v":700},{"s":"g68","d":50,"v":750},{"s":"g68","d":53,"v":600},{"s":"g68","d":56,"v":650},{"s":"g68","d":59,"v":500},{"s":"g68","d":62,"v":550},{"s":"g68","d":65,"v":450},{"s":"g68","d":68,"v":480},{"s":"g68","d":71,"v":400},{"s":"g68","d":74,"v":420},{"s":"g68","d":77,"v":380},
{"s":"g69","d":0,"v":10},{"s":"g69","d":3,"v":15},{"s":"g69","d":6,"v":25},{"s":"g69","d":9,"v":40},{"s":"g69","d":12,"v":35},{"s":"g69","d":15,"v":55},{"s":"g69","d":18,"v":75},{"s":"g69","d":21,"v":65},{"s":"g69","d":24,"v":95},{"s":"g69","d":27,"v":85},{"s":"g69","d":30,"v":120},{"s":"g69","d":33,"v":100},{"s":"g69","d":36,"v":140},{"s":"g69","d":39,"v":120},{"s":"g69","d":42,"v":170},{"s":"g69","d":45,"v":150},{"s":"g69","d":48,"v":190},{"s":"g69","d":51,"v":160},{"s":"g69","d":54,"v":200},{"s":"g69","d":57,"v":170},{"s":"g69","d":60,"v":210},{"s":"g69","d":63,"v":180},{"s":"g69","d":66,"v":220},{"s":"g69","d":69,"v":190},{"s":"g69","d":72,"v":240},{"s":"g69","d":75,"v":200},
{"s":"g70","d":0,"v":10},{"s":"g70","d":2,"v":14},{"s":"g70","d":4,"v":22},{"s":"g70","d":6,"v":35},{"s":"g70","d":8,"v":55},{"s":"g70","d":10,"v":50},{"s":"g70","d":12,"v":80},{"s":"g70","d":14,"v":120},{"s":"g70","d":16,"v":110},{"s":"g70","d":18,"v":170},{"s":"g70","d":20,"v":160},{"s":"g70","d":22,"v":230},{"s":"g70","d":25,"v":210},{"s":"g70","d":28,"v":300},{"s":"g70","d":31,"v":270},{"s":"g70","d":34,"v":380},{"s":"g70","d":37,"v":330},{"s":"g70","d":40,"v":450},{"s":"g70","d":43,"v":400},{"s":"g70","d":46,"v":520},{"s":"g70","d":49,"v":460},{"s":"g70","d":52,"v":600},{"s":"g70","d":55,"v":540},{"s":"g70","d":58,"v":650},{"s":"g70","d":61,"v":580},{"s":"g70","d":64,"v":700},{"s":"g70","d":67,"v":620},{"s":"g70","d":70,"v":750},{"s":"g70","d":73,"v":680},{"s":"g70","d":76,"v":800},
{"s":"g71","d":0,"v":10},{"s":"g71","d":2,"v":6},{"s":"g71","d":4,"v":4},{"s":"g71","d":6,"v":7},{"s":"g71","d":8,"v":3},{"s":"g71","d":10,"v":5},{"s":"g71","d":12,"v":2},{"s":"g71","d":14,"v":4},{"s":"g71","d":16,"v":1},{"s":"g71","d":18,"v":3},{"s":"g71","d":20,"v":0},{"s":"g71","d":22,"v":2},{"s":"g71","d":24,"v":1},{"s":"g71","d":26,"v":3},{"s":"g71","d":28,"v":1},{"s":"g71","d":30,"v":0},
{"s":"g72","d":0,"v":10},{"s":"g72","d":3,"v":12},{"s":"g72","d":6,"v":9},{"s":"g72","d":9,"v":14},{"s":"g72","d":12,"v":8},{"s":"g72","d":15,"v":11},{"s":"g72","d":18,"v":6},{"s":"g72","d":21,"v":9},{"s":"g72","d":24,"v":5},{"s":"g72","d":27,"v":7},{"s":"g72","d":30,"v":3},{"s":"g72","d":33,"v":5},{"s":"g72","d":36,"v":2},{"s":"g72","d":39,"v":4},{"s":"g72","d":42,"v":1},{"s":"g72","d":45,"v":2},{"s":"g72","d":48,"v":0},{"s":"g72","d":51,"v":1},{"s":"g72","d":54,"v":0},
{"s":"g73","d":0,"v":10},{"s":"g73","d":3,"v":22},{"s":"g73","d":6,"v":18},{"s":"g73","d":9,"v":35},{"s":"g73","d":12,"v":30},{"s":"g73","d":15,"v":50},{"s":"g73","d":18,"v":44},{"s":"g73","d":21,"v":65},{"s":"g73","d":24,"v":58},{"s":"g73","d":27,"v":48},{"s":"g73","d":30,"v":55},{"s":"g73","d":33,"v":40},{"s":"g73","d":36,"v":46},{"s":"g73","d":39,"v":33},{"s":"g73","d":42,"v":38},{"s":"g73","d":45,"v":26},{"s":"g73","d":48,"v":30},{"s":"g73","d":51,"v":20},{"s":"g73","d":54,"v":24},{"s":"g73","d":57,"v":15},{"s":"g73","d":60,"v":18},{"s":"g73","d":63,"v":10},{"s":"g73","d":66,"v":12},{"s":"g73","d":69,"v":8},{"s":"g73","d":72,"v":9},{"s":"g73","d":75,"v":5},
{"s":"g74","d":0,"v":10},{"s":"g74","d":2,"v":25},{"s":"g74","d":4,"v":55},{"s":"g74","d":6,"v":100},{"s":"g74","d":8,"v":160},{"s":"g74","d":10,"v":250},{"s":"g74","d":12,"v":320},{"s":"g74","d":14,"v":400},{"s":"g74","d":16,"v":380},{"s":"g74","d":18,"v":480},{"s":"g74","d":20,"v":430},{"s":"g74","d":22,"v":520},{"s":"g74","d":25,"v":460},{"s":"g74","d":28,"v":380},{"s":"g74","d":31,"v":420},{"s":"g74","d":34,"v":330},{"s":"g74","d":37,"v":360},{"s":"g74","d":40,"v":280},{"s":"g74","d":43,"v":300},{"s":"g74","d":46,"v":230},{"s":"g74","d":49,"v":250},{"s":"g74","d":52,"v":190},{"s":"g74","d":55,"v":200},{"s":"g74","d":58,"v":160},{"s":"g74","d":61,"v":170},{"s":"g74","d":64,"v":130},{"s":"g74","d":67,"v":140},{"s":"g74","d":70,"v":110}
],
"hl": [
{"s":"China","d":0,"v":10},{"s":"China","d":1.3,"v":4.9},{"s":"China","d":3.2,"v":4.5},{"s":"China","d":4.5,"v":3.4},{"s":"China","d":5,"v":2.1},{"s":"China","d":6,"v":1.9},{"s":"China","d":7,"v":0},{"s":"China","d":10.7,"v":0},{"s":"China","d":12.2,"v":1.6},{"s":"China","d":14,"v":22},{"s":"China","d":15.5,"v":26},{"s":"China","d":17.4,"v":68},{"s":"China","d":19.3,"v":152},{"s":"China","d":21.1,"v":300},{"s":"China","d":22.5,"v":590},{"s":"China","d":25,"v":1070},{"s":"China","d":27.4,"v":1930},{"s":"China","d":31.2,"v":3200},{"s":"China","d":34.4,"v":3490},{"s":"China","d":37.6,"v":3200},{"s":"China","d":39.1,"v":4560},{"s":"China","d":41.6,"v":4690},{"s":"China","d":44.8,"v":4560},{"s":"China","d":46,"v":3200},{"s":"China","d":47.3,"v":1770},{"s":"China","d":49.2,"v":980},{"s":"China","d":51.1,"v":590},{"s":"China","d":53.7,"v":467},{"s":"China","d":56.7,"v":347},{"s":"China","d":59.9,"v":244},{"s":"China","d":62.4,"v":152},{"s":"China","d":65,"v":91},{"s":"China","d":67.5,"v":46},{"s":"China","d":69.4,"v":27},{"s":"China","d":70.7,"v":25},{"s":"China","d":72.6,"v":27},{"s":"China","d":74.5,"v":34},{"s":"China","d":75.7,"v":46},{"s":"China","d":77.5,"v":62},{"s":"China","d":80.2,"v":78},{"s":"China","d":83.2,"v":100},{"s":"China","d":86.4,"v":97},{"s":"China","d":90.2,"v":74},{"s":"China","d":94,"v":67},{"s":"China","d":97.8,"v":74},{"s":"China","d":100.2,"v":86},{"s":"China","d":102.9,"v":78},{"s":"China","d":104.8,"v":62},{"s":"China","d":107.8,"v":27},{"s":"China","d":110.4,"v":16},{"s":"China","d":112.9,"v":13.3},{"s":"China","d":116.1,"v":10},{"s":"China","d":118,"v":7.6},{"s":"China","d":119.9,"v":6.9},{"s":"China","d":120.5,"v":4.2},{"s":"China","d":121.8,"v":4.1},{"s":"China","d":123.7,"v":2.9},{"s":"China","d":124.3,"v":2.6},{"s":"China","d":126.2,"v":6.5},{"s":"China","d":128.7,"v":6.9},{"s":"China","d":131.3,"v":8.2},{"s":"China","d":133.2,"v":6},{"s":"China","d":135.6,"v":7.2},{"s":"China","d":137.5,"v":6.9},{"s":"China","d":140.8,"v":5.8},{"s":"China","d":143.2,"v":5.4},{"s":"China","d":144.5,"v":3.8},{"s":"China","d":145.6,"v":5.4},{"s":"China","d":147.6,"v":7.6},
{"s":"Japan","d":0,"v":11},{"s":"Japan","d":3.5,"v":14.6},{"s":"Japan","d":6,"v":18},{"s":"Japan","d":7.9,"v":16},{"s":"Japan","d":9.8,"v":15.6},{"s":"Japan","d":12.2,"v":20},{"s":"Japan","d":14.9,"v":30},{"s":"Japan","d":17.4,"v":40},{"s":"Japan","d":19.8,"v":46},{"s":"Japan","d":22.5,"v":46},{"s":"Japan","d":24.9,"v":39},{"s":"Japan","d":28.1,"v":40},{"s":"Japan","d":31.2,"v":55},{"s":"Japan","d":33.8,"v":74},{"s":"Japan","d":36.3,"v":112},{"s":"Japan","d":38.2,"v":100},{"s":"Japan","d":40.1,"v":165},{"s":"Japan","d":42.5,"v":222},{"s":"Japan","d":45.2,"v":274},{"s":"Japan","d":47.3,"v":318},{"s":"Japan","d":49.2,"v":496},{"s":"Japan","d":51.8,"v":592},{"s":"Japan","d":54.8,"v":629},{"s":"Japan","d":56.7,"v":510},{"s":"Japan","d":61.8,"v":428},{"s":"Japan","d":66.9,"v":300},{"s":"Japan","d":70.7,"v":222},{"s":"Japan","d":74.5,"v":181},{"s":"Japan","d":77.5,"v":112},{"s":"Japan","d":79.4,"v":91},{"s":"Japan","d":82.7,"v":86},{"s":"Japan","d":85.1,"v":74},{"s":"Japan","d":87.8,"v":50},{"s":"Japan","d":91.6,"v":40},{"s":"Japan","d":93.4,"v":40},{"s":"Japan","d":95.9,"v":30},{"s":"Japan","d":97.2,"v":40},{"s":"Japan","d":99.3,"v":43},
{"s":"France","d":0,"v":12},{"s":"France","d":2.8,"v":30},{"s":"France","d":4.7,"v":64},{"s":"France","d":7.3,"v":134},{"s":"France","d":9.8,"v":222},{"s":"France","d":12.2,"v":440},{"s":"France","d":14.9,"v":729},{"s":"France","d":17.4,"v":978},{"s":"France","d":19.8,"v":1315},{"s":"France","d":22.5,"v":1930},{"s":"France","d":25.5,"v":2600},{"s":"France","d":28.7,"v":3390},{"s":"France","d":31.9,"v":4690},{"s":"France","d":34.4,"v":4300},{"s":"France","d":36.8,"v":4560},{"s":"France","d":39.1,"v":4300},{"s":"France","d":42.5,"v":3706},{"s":"France","d":48,"v":2757},{"s":"France","d":51.8,"v":2176},{"s":"France","d":55.6,"v":1876},{"s":"France","d":58.6,"v":1440},{"s":"France","d":61.8,"v":1205},{"s":"France","d":65.6,"v":980},{"s":"France","d":69.4,"v":773},{"s":"France","d":72.6,"v":629},{"s":"France","d":75.7,"v":667},{"s":"France","d":78.9,"v":687},{"s":"France","d":82.6,"v":629},{"s":"France","d":86.4,"v":440},{"s":"France","d":89.6,"v":415},{"s":"France","d":90.4,"v":592},{"s":"France","d":91.2,"v":647},
{"s":"Russia","d":0,"v":10},{"s":"Russia","d":2.2,"v":17},{"s":"Russia","d":4.7,"v":34},{"s":"Russia","d":6,"v":55},{"s":"Russia","d":7.5,"v":55},{"s":"Russia","d":9.8,"v":91},{"s":"Russia","d":12.2,"v":175},{"s":"Russia","d":14.9,"v":274},{"s":"Russia","d":16,"v":327},{"s":"Russia","d":19.8,"v":541},{"s":"Russia","d":23.6,"v":897},{"s":"Russia","d":27.4,"v":1620},{"s":"Russia","d":31.2,"v":2375},{"s":"Russia","d":35,"v":3490},{"s":"Russia","d":37.8,"v":4690},{"s":"Russia","d":42.5,"v":6120},{"s":"Russia","d":45.7,"v":6700},{"s":"Russia","d":49.2,"v":8500},{"s":"Russia","d":53.7,"v":11070},{"s":"Russia","d":58,"v":11400},{"s":"Russia","d":61.3,"v":10400},{"s":"Russia","d":65.6,"v":9550},{"s":"Russia","d":70.7,"v":9000},{"s":"Russia","d":76.4,"v":9000},
{"s":"US","d":0,"v":12},{"s":"US","d":2.2,"v":34},{"s":"US","d":4.4,"v":70},{"s":"US","d":6.6,"v":123},{"s":"US","d":8.8,"v":250},{"s":"US","d":11.1,"v":441},{"s":"US","d":13.5,"v":900},{"s":"US","d":16,"v":1770},{"s":"US","d":18,"v":3000},{"s":"US","d":19.8,"v":4690},{"s":"US","d":21.7,"v":7000},{"s":"US","d":23.6,"v":9540},{"s":"US","d":25.5,"v":12500},{"s":"US","d":27.4,"v":15300},{"s":"US","d":30,"v":19000},{"s":"US","d":32.5,"v":23150},{"s":"US","d":35,"v":27500},{"s":"US","d":37.6,"v":31100},{"s":"US","d":42.5,"v":31100},{"s":"US","d":45.7,"v":29300},{"s":"US","d":52.4,"v":29300},{"s":"US","d":59.9,"v":27900},{"s":"US","d":66.9,"v":27000},{"s":"US","d":71.9,"v":23800},{"s":"US","d":77,"v":23150},{"s":"US","d":78.9,"v":23150},
{"s":"Brazil","d":0,"v":11},{"s":"Brazil","d":3,"v":40},{"s":"Brazil","d":6.6,"v":123},{"s":"Brazil","d":9,"v":200},{"s":"Brazil","d":11.7,"v":283},{"s":"Brazil","d":14,"v":330},{"s":"Brazil","d":16.8,"v":403},{"s":"Brazil","d":19.3,"v":593},{"s":"Brazil","d":22.5,"v":796},{"s":"Brazil","d":26.2,"v":1205},{"s":"Brazil","d":30,"v":1620},{"s":"Brazil","d":33.8,"v":1935},{"s":"Brazil","d":37.6,"v":2375},{"s":"Brazil","d":41.4,"v":2925},{"s":"Brazil","d":46.1,"v":4300},{"s":"Brazil","d":50.5,"v":5770},{"s":"Brazil","d":55.6,"v":7760},{"s":"Brazil","d":60.5,"v":10400},{"s":"Brazil","d":65.6,"v":14000},{"s":"Brazil","d":71.9,"v":17700},{"s":"Brazil","d":75.7,"v":19950},{"s":"Brazil","d":78.9,"v":23150}
],
"dots": [
{"s":"China","d":147.6,"v":7.6},{"s":"Japan","d":99.3,"v":43},{"s":"France","d":91.2,"v":647},{"s":"Russia","d":76.4,"v":9000},{"s":"Brazil","d":78.9,"v":23150}
],
"labs": [
{"s":"Brazil","t":"Brazil","d":81.9,"v":22000},
{"s":"US","t":"United States","d":92.4,"v":22000},
{"s":"Russia","t":"Russia","d":79.2,"v":9000},
{"s":"France","t":"France","d":94.2,"v":630},
{"s":"Japan","t":"Japan","d":102.3,"v":41},
{"s":"China","t":"China","d":150.2,"v":7.4}
],
"jpkana": [
{"s":"ブラジル","t":"ブラジル","d":67.5,"v":60000},
{"s":"ロシア","t":"ロシア","d":92.1,"v":6690},
{"s":"フランス","t":"フランス","d":106.9,"v":667}
],
"jpkanji": [
{"s":"米国","t":"米国","d":118.2,"v":25300},
{"s":"日本","t":"日本","d":108.2,"v":76},
{"s":"中国","t":"中国","d":148,"v":1.9}
]
},
"layer": [
{
"data": {"name": "grey"},
"mark": {"type": "line", "color": "#b0a8a2", "strokeWidth": 1.2, "strokeJoin": "round"},
"encoding": {
"x": {"field": "d", "type": "quantitative", "scale": {"domain": [0, 160], "nice": false, "zero": false},
"axis": {"values": [20,40,60,80,100,120,140], "tickCount": 20, "grid": true, "gridColor": "#e9dccf", "gridWidth": 1.5, "ticks": false, "domain": true, "domainColor": "#6e6560", "domainWidth": 2, "labelFontSize": 19, "labelColor": "#6e6560", "labelPadding": 8, "labelOverlap": false, "labelFlush": false, "title": ["Number of days since 10", "daily cases first recorded"], "titleFontSize": 19, "titleFontWeight": "normal", "titleColor": "#6e6560", "titleAnchor": "start", "titleAlign": "left", "titleBaseline": "top", "titleX": 0, "titleY": 53, "titleLineHeight": 27}},
"y": {"field": "v", "type": "quantitative", "scale": {"type": "symlog", "constant": 1, "domain": [0, 31000], "nice": false, "zero": false},
"axis": {"values": [0,1,2,5,10,20,50,100,200,500,1000,2000,5000,10000,20000], "tickCount": 30, "labelExpr": "format(datum.value, ',')", "grid": true, "gridColor": "#e9dccf", "gridWidth": 1.5, "ticks": false, "domain": false, "labelFontSize": 20.5, "labelColor": "#6e6560", "labelPadding": 7, "labelOverlap": false, "labelFlush": false, "title": null}},
"detail": {"field": "s", "type": "nominal"}
}
},
{
"data": {"name": "hl"},
"mark": {"type": "line", "color": "#fdf1e6", "strokeWidth": 7, "strokeJoin": "round", "strokeCap": "round"},
"encoding": {
"x": {"field": "d", "type": "quantitative"},
"y": {"field": "v", "type": "quantitative"},
"detail": {"field": "s", "type": "nominal"}
}
},
{
"data": {"name": "hl"},
"mark": {"type": "line", "strokeWidth": 4, "strokeJoin": "round", "strokeCap": "round"},
"encoding": {
"x": {"field": "d", "type": "quantitative"},
"y": {"field": "v", "type": "quantitative"},
"color": {"field": "s", "type": "nominal", "legend": null,
"scale": {"domain": ["China","Japan","France","Russia","US","Brazil","ブラジル","米国","ロシア","フランス","日本","中国"],
"range": ["#e9568d","#95c23d","#cf2a3d","#2a97dc","#1c4f9c","#7e1633","#953735","#1f4e79","#4bacc6","#e46c0a","#77933c","#c0504d"]}}
}
},
{
"data": {"name": "dots"},
"mark": {"type": "circle", "size": 150, "opacity": 1},
"encoding": {
"x": {"field": "d", "type": "quantitative"},
"y": {"field": "v", "type": "quantitative"},
"color": {"field": "s", "type": "nominal", "legend": null}
}
},
{
"data": {"name": "labs"},
"mark": {"type": "text", "align": "left", "baseline": "middle", "fontSize": 21, "font": "Liberation Sans", "fill": "#fdf1e6", "stroke": "#fdf1e6", "strokeWidth": 5},
"encoding": {
"x": {"field": "d", "type": "quantitative"},
"y": {"field": "v", "type": "quantitative"},
"text": {"field": "t"}
}
},
{
"data": {"name": "labs"},
"mark": {"type": "text", "align": "left", "baseline": "middle", "fontSize": 21, "font": "Liberation Sans"},
"encoding": {
"x": {"field": "d", "type": "quantitative"},
"y": {"field": "v", "type": "quantitative"},
"text": {"field": "t"},
"color": {"field": "s", "type": "nominal", "legend": null}
}
},
{
"data": {"name": "jpkana"},
"mark": {"type": "text", "align": "left", "baseline": "middle", "fontSize": 38, "font": "Noto Sans CJK JP"},
"encoding": {
"x": {"field": "d", "type": "quantitative"},
"y": {"field": "v", "type": "quantitative"},
"text": {"field": "t"},
"color": {"field": "s", "type": "nominal", "legend": null}
}
},
{
"data": {"name": "jpkanji"},
"mark": {"type": "text", "align": "left", "baseline": "middle", "fontSize": 45, "font": "Noto Sans CJK JP"},
"encoding": {
"x": {"field": "d", "type": "quantitative"},
"y": {"field": "v", "type": "quantitative"},
"text": {"field": "t"},
"color": {"field": "s", "type": "nominal", "legend": null}
}
}
]
}
